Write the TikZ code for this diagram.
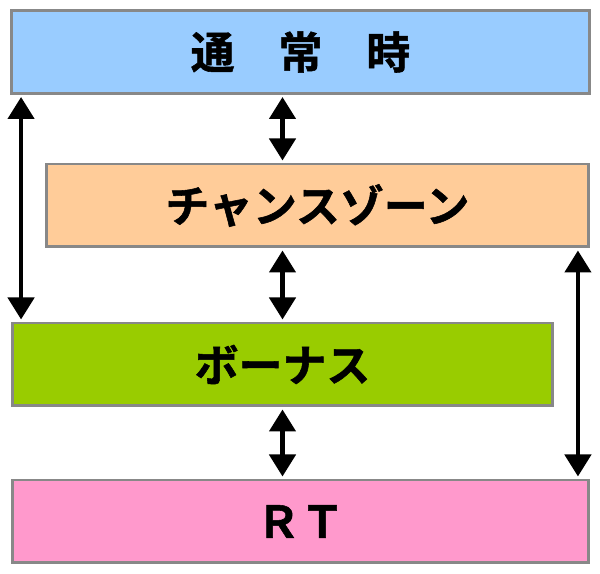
\documentclass[tikz,border=0pt]{standalone}
\usepackage{fontspec}
\newfontfamily\jpfont{Noto Sans CJK JP}[BoldFont={Noto Sans CJK JP Bold}, BoldFeatures={FakeBold=1.2}]
\usetikzlibrary{arrows.meta}

\definecolor{normalblue}{HTML}{99CCFF}
\definecolor{chancepeach}{HTML}{FFCC99}
\definecolor{bonusgreen}{HTML}{99CC00}
\definecolor{rtpink}{HTML}{FF99CC}
\definecolor{edgegray}{HTML}{888888}

\tikzset{
  statebox/.style={draw=edgegray, line width=1.7pt, minimum height=1.66cm,
    inner sep=0pt, outer sep=0pt, font=\jpfont\bfseries\fontsize{25}{25}\selectfont},
  dbl/.style={line width=2.6pt, {Triangle[width=0.52cm,length=0.44cm]}-{Triangle[width=0.52cm,length=0.44cm]},
    shorten <=2pt, shorten >=2pt}
}

\begin{document}
\begin{tikzpicture}[x=0.02cm, y=-0.02cm]

\useasboundingbox (0,0) rectangle (600,574);

% States
\node[statebox, fill=normalblue, minimum width=11.58cm] (normal) at (300.5,52) {通　常　時};
\node[statebox, fill=chancepeach, minimum width=10.86cm] (chance) at (317.5,205.5) {チャンスゾーン};
\node[statebox, fill=bonusgreen, minimum width=10.82cm] (bonus) at (282.5,364.5) {ボーナス};
\node[statebox, fill=rtpink, minimum width=11.54cm] (rt) at (300.5,521.5) {ＲＴ};

% Transitions down the middle
\draw[dbl] (normal.south -| bonus.north) -- (chance.north -| bonus.north);
\draw[dbl] (chance.south -| bonus.north) -- (bonus.north);
\draw[dbl] (bonus.south) -- (rt.north -| bonus.south);

% Transitions at the sides
\draw[dbl] ([xshift=0.2cm]normal.south west) -- ([xshift=0.2cm]normal.south west |- bonus.north);
\draw[dbl] ([xshift=-0.22cm]chance.south east) -- ([xshift=-0.22cm]chance.south east |- rt.north);

\end{tikzpicture}
\end{document}
